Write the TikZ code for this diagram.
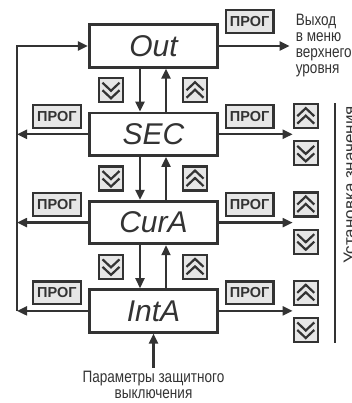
\documentclass[tikz,border=0pt]{standalone}
\usepackage{fontspec}
\setsansfont{Liberation Sans}
\newfontfamily\narrowfont{Liberation Sans}[FakeStretch=0.82]
\usepackage{xcolor}
\usepackage{tikz}
\usetikzlibrary{positioning, arrows.meta}
\definecolor{ink}{HTML}{333333}
\definecolor{keyfill}{HTML}{E6E6E6}

\begin{document}
\begin{tikzpicture}[
    x=1pt, y=1pt,
    >={Triangle[length=10pt,width=9pt]},
    % menu items
    menubox/.style={
        rectangle,
        draw=ink,
        line width=2.8pt,
        fill=white,
        minimum width=128.5pt,
        minimum height=42.5pt,
        inner sep=0pt,
        text=ink,
        font=\sffamily\itshape\fontsize{30}{30}\selectfont
    },
    % keys
    progbox/.style={
        rectangle,
        draw=ink,
        line width=2.2pt,
        fill=keyfill,
        minimum width=47.8pt,
        minimum height=22.8pt,
        inner sep=0pt,
        text=ink,
        font=\sffamily\bfseries\fontsize{14.5}{14.5}\selectfont
    },
    keybox/.style={
        rectangle,
        draw=ink,
        line width=2.2pt,
        fill=keyfill,
        minimum size=24pt,
        inner sep=0pt
    },
    dnbtn/.style={keybox, path picture={
        \draw[ink, line width=2.2pt]
            ([shift={(-8.5pt,7.5pt)}]path picture bounding box.center) -- ++(8.5pt,-8pt) -- ++(8.5pt,8pt)
            ([shift={(-8.5pt,0pt)}]path picture bounding box.center) -- ++(8.5pt,-8pt) -- ++(8.5pt,8pt);}},
    upbtn/.style={keybox, path picture={
        \draw[ink, line width=2.2pt]
            ([shift={(-8.5pt,-7.5pt)}]path picture bounding box.center) -- ++(8.5pt,8pt) -- ++(8.5pt,-8pt)
            ([shift={(-8.5pt,0pt)}]path picture bounding box.center) -- ++(8.5pt,8pt) -- ++(8.5pt,-8pt);}},
    note/.style={
        text=ink,
        inner sep=0pt,
        font=\narrowfont\fontsize{16.5}{16}\selectfont
    }
]
    \useasboundingbox (0,0) rectangle (352,403);

    % Menu items
    \node[menubox] (Out) at (153.5,357) {Out};
    \node[menubox, below=43pt of Out] (SEC) {SEC};
    \node[menubox, below=43pt of SEC] (CurA) {CurA};
    \node[menubox, below=43pt of CurA] (IntA) {IntA};

    % Keys between the items
    \node[dnbtn, below=8.5pt of Out, xshift=-42.5pt] (dnOut) {};
    \node[upbtn, below=8.5pt of Out, xshift=41.5pt] (upOut) {};
    \node[dnbtn, below=8.5pt of SEC, xshift=-42.5pt] (dnSECmid) {};
    \node[upbtn, below=8.5pt of SEC, xshift=41.5pt] (upSECmid) {};
    \node[dnbtn, below=8.5pt of CurA, xshift=-42.5pt] (dnCurAmid) {};
    \node[upbtn, below=8.5pt of CurA, xshift=41.5pt] (upCurAmid) {};

    % Keys on the right
    \node[progbox, above right=12pt and 5.5pt of Out.east] (progOut) {ПРОГ};
    \node[progbox, above right=5.5pt and 5.5pt of SEC.east] (progSEC) {ПРОГ};
    \node[upbtn, above right=5pt and 73.5pt of SEC.east] (upSEC) {};
    \node[dnbtn, below right=6pt and 73.5pt of SEC.east] (dnSEC) {};
    \node[progbox, above right=5.5pt and 5.5pt of CurA.east] (progCurA) {ПРОГ};
    \node[upbtn, above right=5pt and 73.5pt of CurA.east] (upCurA) {};
    \node[dnbtn, below right=6pt and 73.5pt of CurA.east] (dnCurA) {};
    \node[progbox, above right=5.5pt and 5.5pt of IntA.east] (progIntA) {ПРОГ};
    \node[upbtn, above right=5pt and 73.5pt of IntA.east] (upIntA) {};
    \node[dnbtn, below right=6pt and 73.5pt of IntA.east] (dnIntA) {};

    % Keys on the left
    \node[progbox, above left=5.5pt and 6pt of SEC.west] (progSECl) {ПРОГ};
    \node[progbox, above left=5.5pt and 6pt of CurA.west] (progCurAl) {ПРОГ};
    \node[progbox, above left=5.5pt and 6pt of IntA.west] (progIntAl) {ПРОГ};

    % Texts
    \node[note, align=left, inner xsep=6pt, right=70.5pt of Out] (exit) {Выход\\в меню\\верхнего\\уровня};
    \node[note, align=center, inner ysep=3pt, below=34pt of IntA] (params) {Параметры защитного\\выключения};
    \node[note, rotate=90, anchor=north, font=\sffamily\fontsize{17}{17}\selectfont] (setval) at (343.5,218) {Установка значения};

    \coordinate (lft) at (17,0);
    \coordinate (rgt) at (335,0);

    % Edges
    \draw[->, line width=2.2pt, ink] ([xshift=-13.5pt]Out.south) -- ([xshift=-13.5pt]SEC.north);
    \draw[->, line width=2.2pt, ink] ([xshift=12.5pt]SEC.north) -- ([xshift=12.5pt]Out.south);
    \draw[->, line width=2.2pt, ink] ([xshift=-13.5pt]SEC.south) -- ([xshift=-13.5pt]CurA.north);
    \draw[->, line width=2.2pt, ink] ([xshift=12.5pt]CurA.north) -- ([xshift=12.5pt]SEC.south);
    \draw[->, line width=2.2pt, ink] ([xshift=-13.5pt]CurA.south) -- ([xshift=-13.5pt]IntA.north);
    \draw[->, line width=2.2pt, ink] ([xshift=12.5pt]IntA.north) -- ([xshift=12.5pt]CurA.south);

    \draw[->, line width=2.2pt, ink] (Out) -- (exit);
    \draw[->, line width=2.2pt, ink] (SEC.east) -- (SEC.east -| upSEC.west);
    \draw[->, line width=2.2pt, ink] (CurA.east) -- (CurA.east -| upCurA.west);
    \draw[->, line width=2.2pt, ink] (IntA.east) -- (IntA.east -| upIntA.west);

    \draw[->, line width=2.2pt, ink] (SEC.west) -- (SEC.west -| lft);
    \draw[->, line width=2.2pt, ink] (CurA.west) -- (CurA.west -| lft);
    \draw[->, line width=2.2pt, ink] (IntA.west) -- (IntA.west -| lft);
    \draw[->, line width=2.2pt, ink] (IntA.west -| lft) |- (Out.west);

    \draw[->, line width=2.2pt, ink] (params) -- (IntA);
    \draw[line width=2pt, ink] (rgt |- upSEC.north) -- (rgt |- dnIntA.south);

\end{tikzpicture}
\end{document}
